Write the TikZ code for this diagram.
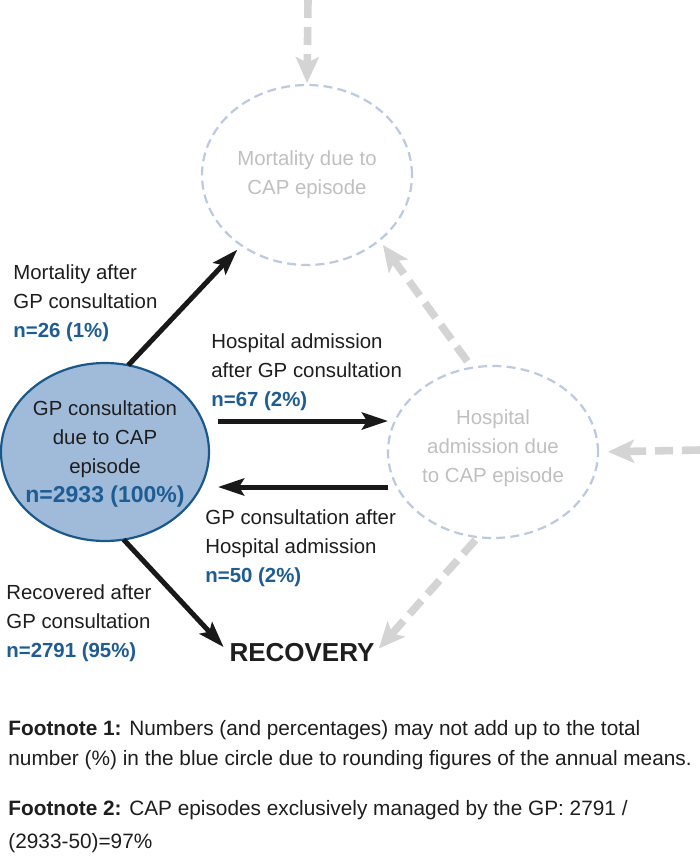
\documentclass[tikz,border=0pt]{standalone}
\usepackage{fontspec}
\setmainfont{Liberation Sans}
\usetikzlibrary{arrows.meta,shapes.geometric}
\definecolor{fillblue}{RGB}{160,187,218}
\definecolor{edgeblue}{RGB}{26,88,140}
\definecolor{lblue}{RGB}{30,92,148}
\definecolor{dashblue}{RGB}{188,202,224}
\definecolor{greytext}{RGB}{192,192,192}
\definecolor{greyarrow}{RGB}{212,212,212}
\definecolor{txt}{RGB}{30,30,30}
\begin{document}
\begin{tikzpicture}[x=0.5pt,y=-0.5pt,
  ellbase/.style={ellipse, inner sep=0pt, outer sep=0pt},
  dashell/.style={ellbase, draw=dashblue, line width=1.1pt, dash pattern=on 4.5pt off 2.6pt},
  gpell/.style={ellbase, draw=edgeblue, fill=fillblue, line width=1.1pt},
  celltext/.style={align=center, inner sep=0pt, font=\fontsize{10.2}{14.5}\selectfont},
  lbl/.style={align=left, inner sep=0pt, anchor=north west, text=txt, font=\fontsize{10.2}{14.5}\selectfont},
  blk/.style={draw=black!90, line width=2.5pt, -{Stealth[length=13pt,width=8.5pt,inset=2.5pt]}},
  gry/.style={draw=greyarrow, line width=3.8pt, dash pattern=on 9pt off 4.5pt, -{Stealth[length=13pt,width=11.5pt,inset=3pt]}},
  foot/.style={align=left, inner sep=0pt, anchor=north west, text=txt}
]
\useasboundingbox (0,0) rectangle (700,857);
\fill[white] (0,0) rectangle (700,857);

% ellipses
\node[dashell, minimum width=105pt, minimum height=90pt] (mort) at (307,175) {};
\node[dashell, minimum width=105pt, minimum height=86pt] (hosp) at (493,452) {};
\node[gpell, minimum width=104pt, minimum height=89pt] (gp) at (105,452) {};

\node[celltext, text=greytext] (morttext) at (307,174.6) {Mortality due to\\CAP episode};
\node[celltext, text=greytext] (hosptext) at (493,448.6) {Hospital\\admission due\\to CAP episode};
\node[celltext, text=txt] (gptext) at (105,454.4) {GP consultation\\due to CAP\\episode\\{\fontsize{11.5}{14.5}\selectfont\bfseries\color{lblue}n=2933 (100\%)}};

\node[inner sep=0pt, text=txt, font=\fontsize{13}{15}\selectfont\bfseries] (rec) at (302,653) {RECOVERY};

% labels
\node[lbl] (mortlab) at (13,264.3) {Mortality after\\GP consultation\\{\bfseries\color{lblue}n=26 (1\%)}};
\node[lbl] (hosplab) at (211,333.3) {Hospital admission\\after GP consultation\\{\bfseries\color{lblue}n=67 (2\%)}};
\node[lbl] (gplab) at (205,509.3) {GP consultation after\\Hospital admission\\{\bfseries\color{lblue}n=50 (2\%)}};
\node[lbl] (reclab) at (6,584.3) {Recovered after\\GP consultation\\{\bfseries\color{lblue}n=2791 (95\%)}};

% footnotes
\node[foot, font=\fontsize{10.4}{14.75}\selectfont] (fn1) at (8,720.3) {{\bfseries Footnote 1:} Numbers (and percentages) may not add up to the total\\number (\%) in the blue circle due to rounding figures of the annual means.};
\node[foot, font=\fontsize{10.4}{16.75}\selectfont] (fn2) at (8,799.8) {{\bfseries Footnote 2:} CAP episodes exclusively managed by the GP: 2791 /\\(2933-50)=97\%};

% free ends
\coordinate (topin) at (308,0);
\coordinate (rightin) at (700,450);
\coordinate (a1s) at (218,421);
\coordinate (a2e) at (218,487);

% grey arrows
\draw[gry, shorten >=1pt] (topin) -- (mort.north);
\draw[gry, shorten >=5pt] (rightin) -- (hosp.east);
\draw[gry, shorten <=4pt, shorten >=3pt] (hosp.104) -- (mort.318);
\draw[gry, shorten <=2pt, shorten >=3pt] (hosp.260) -- (rec.east);

% black arrows
\draw[blk, shorten >=3pt] (gp.75) -- (mort.227);
\draw[blk] (a1s) -- (hosp.west |- a1s);
\draw[blk] (hosp.west |- a2e) -- (a2e);
\draw[blk, shorten >=4pt] (gp.282) -- (rec.west);
\end{tikzpicture}
\end{document}
